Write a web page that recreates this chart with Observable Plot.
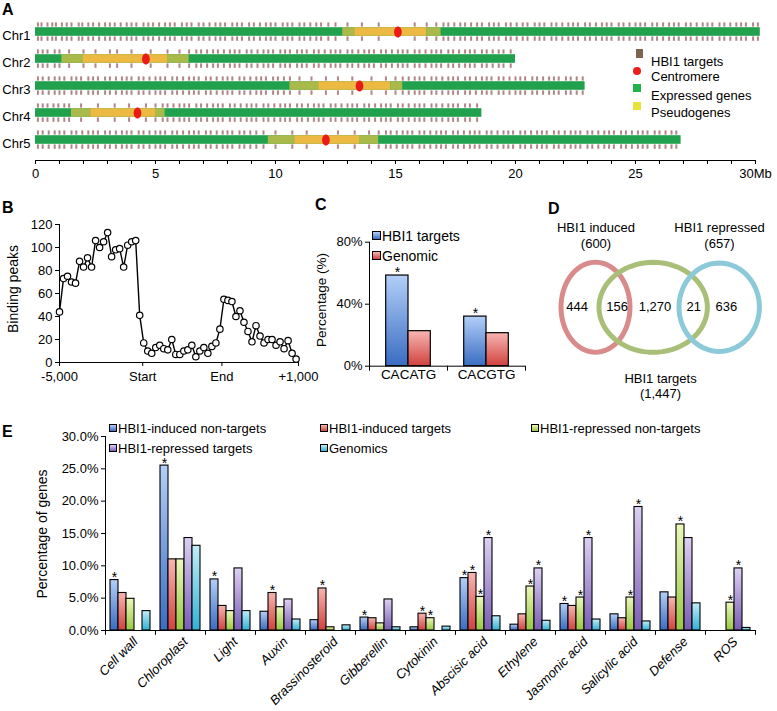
<!DOCTYPE html>
<html><head><meta charset="utf-8">
<script src="https://cdn.jsdelivr.net/npm/d3@7"></script>
<script src="https://cdn.jsdelivr.net/npm/@observablehq/plot@0.6"></script>
<style>
body{margin:0;background:#fff;}
#root{position:relative;width:777px;height:711px;overflow:hidden;font-family:Arial,"Liberation Sans",Helvetica,sans-serif;color:#000;background:#fff;}
</style></head><body>
<svg width="0" height="0" style="position:absolute">
<defs>
<linearGradient id="gBlue" x1="0" y1="0" x2="0" y2="1"><stop offset="0" stop-color="#b3cff8"/><stop offset="1" stop-color="#3a6cc2"/></linearGradient>
<linearGradient id="gRed" x1="0" y1="0" x2="0" y2="1"><stop offset="0" stop-color="#f8b6b2"/><stop offset="1" stop-color="#d0423e"/></linearGradient>
<linearGradient id="gGreen" x1="0" y1="0" x2="0" y2="1"><stop offset="0" stop-color="#ecf8bb"/><stop offset="1" stop-color="#98c843"/></linearGradient>
<linearGradient id="gPurple" x1="0" y1="0" x2="0" y2="1"><stop offset="0" stop-color="#ddd1f3"/><stop offset="1" stop-color="#7a5db4"/></linearGradient>
<linearGradient id="gCyan" x1="0" y1="0" x2="0" y2="1"><stop offset="0" stop-color="#c0edf8"/><stop offset="1" stop-color="#33b1d5"/></linearGradient>
</defs></svg>
<div id="root"></div>
<script>
// ---------------- DATA ----------------
// Panel A
const chrNames = ["Chr1","Chr2","Chr3","Chr4","Chr5"];
const chrLengths = [30.2, 20.0, 22.9, 18.6, 26.9];
const centromeres = [15.1, 4.6, 13.5, 4.25, 12.1];
const pseudoChr   = ["Chr1","Chr1","Chr1","Chr2","Chr2","Chr2","Chr3","Chr3","Chr3","Chr4","Chr4","Chr4","Chr5","Chr5","Chr5"];
const pseudoStart = [12.8,13.3,16.3, 1.1,2.0,5.5, 10.6,11.8,14.8, 1.5,2.3,5.0, 9.7,10.8,13.5];
const pseudoEnd   = [13.3,16.3,16.9, 2.0,5.5,6.4, 11.8,14.8,15.3, 2.3,5.0,5.4, 10.8,13.5,14.3];
const pseudoTone  = ["mixed","core","mixed","mixed","core","mixed","mixed","core","mixed","mixed","core","mixed","mixed","core","mixed"];
const targetsChr1 = [0.1,0.25,0.5,0.7,0.85,1.1,1.3,1.5,1.8,1.95,2.2,2.4,2.65,2.9,3.1,3.3,3.55,3.8,4.0,4.2,4.5,4.7,4.9,5.15,5.4,5.6,5.8,6.1,6.3,6.5,6.8,7.0,7.25,7.5,7.7,7.9,8.2,8.4,8.6,8.9,9.1,9.35,9.6,9.8,10.0,10.3,10.5,10.7,11.0,11.2,11.45,11.7,11.9,12.2,12.5,13.0,13.6,14.3,15.8,16.3,16.7,17.0,17.2,17.45,17.7,17.9,18.15,18.4,18.6,18.9,19.1,19.3,19.6,19.8,20.05,20.3,20.5,20.8,21.0,21.2,21.5,21.7,21.95,22.2,22.4,22.6,22.9,23.1,23.35,23.6,23.8,24.0,24.3,24.5,24.75,25.0,25.2,25.4,25.7,25.9,26.15,26.4,26.6,26.8,27.1,27.3,27.55,27.8,28.0,28.2,28.5,28.7,28.95,29.2,29.4,29.6,29.9,30.1];
const targetsChr2 = [0.1,0.3,0.5,0.8,1.0,1.4,2.0,2.5,3.1,3.4,4.0,4.8,5.5,6.0,6.4,6.7,6.9,7.15,7.4,7.6,7.85,8.1,8.3,8.5,8.8,9.0,9.25,9.5,9.7,9.9,10.2,10.4,10.6,10.9,11.1,11.3,11.6,11.8,12.05,12.3,12.5,12.7,13.0,13.2,13.45,13.7,13.9,14.1,14.4,14.6,14.85,15.1,15.3,15.5,15.8,16.0,16.25,16.5,16.7,16.9,17.2,17.4,17.65,17.9,18.1,18.3,18.6,18.8,19.05,19.3,19.5,19.8];
const targetsChr3 = [0.1,0.3,0.55,0.8,1.0,1.2,1.5,1.7,1.9,2.2,2.4,2.6,2.9,3.1,3.35,3.6,3.8,4.0,4.3,4.5,4.75,5.0,5.2,5.4,5.7,5.9,6.15,6.4,6.6,6.8,7.1,7.3,7.55,7.8,8.0,8.2,8.5,8.7,8.95,9.2,9.4,9.6,9.9,10.1,10.35,10.6,11.0,11.5,12.1,12.6,13.2,14.0,14.6,15.0,15.3,15.55,15.8,16.0,16.2,16.5,16.7,16.95,17.2,17.4,17.6,17.9,18.1,18.35,18.6,18.8,19.0,19.3,19.5,19.75,20.0,20.2,20.4,20.7,20.9,21.15,21.4,21.6,21.8,22.1,22.3,22.55,22.8];
const targetsChr4 = [0.1,0.3,0.5,0.75,0.95,1.2,1.4,1.9,2.6,3.3,3.9,4.6,5.0,5.3,5.5,5.75,6.0,6.2,6.4,6.7,6.9,7.15,7.4,7.6,7.8,8.1,8.3,8.55,8.8,9.0,9.2,9.5,9.7,9.95,10.2,10.4,10.6,10.9,11.1,11.35,11.6,11.8,12.0,12.3,12.5,12.75,13.0,13.2,13.4,13.7,13.9,14.15,14.4,14.6,14.8,15.1,15.3,15.55,15.8,16.0,16.2,16.5,16.7,16.95,17.2,17.4,17.6,17.9,18.1,18.4];
const targetsChr5 = [0.1,0.3,0.55,0.8,1.0,1.2,1.5,1.7,1.95,2.2,2.4,2.6,2.9,3.1,3.35,3.6,3.8,4.0,4.3,4.5,4.75,5.0,5.2,5.4,5.7,5.9,6.15,6.4,6.6,6.8,7.1,7.3,7.55,7.8,8.0,8.2,8.5,8.7,8.95,9.2,9.5,10.0,10.7,11.3,12.6,13.3,13.9,14.3,14.6,14.8,15.05,15.3,15.5,15.7,16.0,16.2,16.45,16.7,16.9,17.1,17.4,17.6,17.85,18.1,18.3,18.5,18.8,19.0,19.25,19.5,19.7,19.9,20.2,20.4,20.65,20.9,21.1,21.3,21.6,21.8,22.05,22.3,22.5,22.7,23.0,23.2,23.45,23.7,23.9,24.1,24.4,24.6,24.85,25.1,25.3,25.5,25.8,26.0,26.25,26.5,26.7];
const mbTicks = [0,1,2,3,4,5,6,7,8,9,10,11,12,13,14,15,16,17,18,19,20,21,22,23,24,25,26,27,28,29,30];
const mbLabeled = [0,5,10,15,20,25,30];
const legendA = ["HBI1 targets","Centromere","Expressed genes","Pseudogenes"];

// Panel B
const bPeaks = [44,73,75,70,69,88,83,91,83,106,100,105,113,92,98,99,83,102,105,106,
                41,17,10,8,13,15,12,11,20,7,7,10,11,15,5,10,13,8,14,17,
                29,55,54,53,40,45,35,27,18,32,23,17,20,20,15,18,12,19,8,3];
const bTickPos = [0, 20.75, 40.5, 59.6];
const bTickLabels = ["-5,000","Start","End","+1,000"];
const bYTicks = [0,20,40,60,80,100,120];

// Panel C
const cMotifs = ["CACATG","CACGTG"];
const cTargets = [58.5, 32.0];
const cGenomic = [22.6, 21.3];
const cStar = [true, true];
const cYTicks = [0,40,80];

// Panel D
const vennSets = ["HBI1 induced","HBI1 targets","HBI1 repressed"];
const vennSizes = [600, 1447, 657];
const vennCounts = [444, 156, 1270, 21, 636];

// Panel E
const eCats = ["Cell wall","Chloroplast","Light","Auxin","Brassinosteroid","Gibberellin","Cytokinin","Abscisic acid","Ethylene","Jasmonic acid","Salicylic acid","Defense","ROS"];
const eSeries = ["HBI1-induced non-targets","HBI1-induced targets","HBI1-repressed non-targets","HBI1-repressed targets","Genomics"];
const eInducedNon  = [7.8,25.5,7.9,2.9,1.6,2.0,0.5,8.1,0.9,4.1,2.5,5.9,0];
const eInducedT    = [5.8,11.0,3.8,5.8,6.5,1.9,2.6,8.9,2.5,3.8,1.9,5.1,0];
const eRepressedNon= [4.9,11.0,3.0,3.6,0.5,1.1,1.9,5.2,6.8,5.1,5.1,16.4,4.3];
const eRepressedT  = [0,14.3,9.6,4.8,0,4.8,0,14.3,9.6,14.3,19.1,14.3,9.6];
const eGenomics    = [3.0,13.1,3.0,1.7,0.8,0.5,0.6,2.2,1.5,1.7,1.4,4.2,0.4];
const eStarInducedNon   = [1,1,1,0,0,1,0,1,0,1,0,0,0];
const eStarInducedT     = [0,0,0,1,1,0,1,1,0,0,0,0,0];
const eStarRepressedNon = [0,0,0,0,0,0,1,1,1,1,1,1,1];
const eStarRepressedT   = [0,0,0,0,0,0,0,1,1,1,1,0,1];
const eStarGenomics     = [0,0,0,0,0,0,0,0,0,0,0,0,0];
const eYTicks = [0,5,10,15,20,25,30];

// ---------------- HELPERS ----------------
const root = document.getElementById("root");
const FONT = 'Arial, "Liberation Sans", Helvetica, sans-serif';
const baseStyle = {background:"transparent", fontFamily:FONT, fontSize:"13px", color:"#000", overflow:"visible"};
function place(node, left, top){ node.style.position="absolute"; node.style.left=left+"px"; node.style.top=top+"px"; root.appendChild(node); }
function label(text, x, y, o={}){
  const d=document.createElement("div"); d.textContent=text;
  const ax = o.anchor==="middle"?"-50%":o.anchor==="end"?"-100%":"0";
  d.style.cssText=`position:absolute;left:${x}px;top:${y}px;font-size:${o.size||13}px;line-height:1;white-space:nowrap;font-weight:${o.bold?"bold":"normal"};transform:translate(${ax},-50%)${o.rotate?` rotate(${o.rotate}deg)`:""};`;
  root.appendChild(d);
}
function swatch(x, y, w, h, bg, o={}){
  const d=document.createElement("div");
  d.style.cssText=`position:absolute;left:${x}px;top:${y}px;width:${w}px;height:${h}px;box-sizing:border-box;background:${bg};${o.border?"border:1px solid #000;":""}${o.round?"border-radius:50%;":""}`;
  root.appendChild(d);
}

// ---------------- PANEL A ----------------
const chrData = chrNames.map((c,i)=>({chr:c, start:0, end:chrLengths[i]}));
const pseudoData = pseudoChr.map((c,i)=>({chr:c, start:pseudoStart[i], end:pseudoEnd[i], tone:pseudoTone[i]}));
const targetLists = [targetsChr1,targetsChr2,targetsChr3,targetsChr4,targetsChr5];
const targetData = targetLists.flatMap((l,i)=>l.map(p=>({chr:chrNames[i], pos:p})));
const cenData = chrNames.map((c,i)=>({chr:c, pos:centromeres[i]}));
const ellipseSymbol = {draw(ctx,size){const r=Math.sqrt(size/Math.PI),a=r*0.8,b=r*1.15,k=0.5523;
  ctx.moveTo(a,0);ctx.bezierCurveTo(a,b*k,a*k,b,0,b);ctx.bezierCurveTo(-a*k,b,-a,b*k,-a,0);
  ctx.bezierCurveTo(-a,-b*k,-a*k,-b,0,-b);ctx.bezierCurveTo(a*k,-b,a,-b*k,a,0);ctx.closePath();}};
const bandInset = 9.2;
const pA = Plot.plot({
  width:777, height:190, marginLeft:35, marginRight:22, marginTop:0, marginBottom:30,
  style:{...baseStyle},
  x:{domain:[0,30], ticks:mbTicks, tickFormat:d=>mbLabeled.includes(d)?(d===30?"30Mb":String(d)):"", tickSize:4, tickPadding:4, line:true, label:null},
  y:{type:"band", domain:chrNames, range:[16,155.6], padding:0, axis:null},
  marks:[
    Plot.tickX(targetData,{x:"pos", y:"chr", stroke:"#b08484", strokeWidth:2, insetTop:4.4, insetBottom:18.4}),
    Plot.tickX(targetData,{x:"pos", y:"chr", stroke:"#b08484", strokeWidth:2, insetTop:18.4, insetBottom:4.2}),
    Plot.barX(chrData,{y:"chr", x1:"start", x2:"end", fill:"#21a04e", insetTop:bandInset, insetBottom:bandInset}),
    Plot.barX(pseudoData,{y:"chr", x1:"start", x2:"end", fill:d=>d.tone==="core"?"#ecb942":"#a9b94a", insetTop:bandInset, insetBottom:bandInset}),
    Plot.dot(cenData,{x:"pos", y:"chr", r:4.8, symbol:ellipseSymbol, fill:"#ea1a1a", stroke:"none"}),
    Plot.text(chrNames,{y:d=>d, frameAnchor:"left", textAnchor:"end", dx:-5, dy:4, fontSize:13})
  ]
});
place(pA,0,0);
// legend A
swatch(636,49,7,9,"#7b6450");
swatch(633,67,8,8,"#ee1c1c",{round:true});
swatch(633,84,8,8,"#22b24c");
swatch(633,102,8,8,"#e8e23a");
label(legendA[0],651,61); label(legendA[1],651,76); label(legendA[2],651,95); label(legendA[3],651,112);

// ---------------- PANEL B ----------------
const bData = bPeaks.map((v,i)=>({i, v}));
const pB = Plot.plot({
  width:310, height:200, marginLeft:59, marginRight:12, marginTop:34, marginBottom:28,
  style:{...baseStyle},
  x:{domain:[0,59.6], ticks:bTickPos, tickFormat:d=>bTickLabels[bTickPos.indexOf(d)], tickSize:4, tickPadding:5, line:true, label:null},
  y:{domain:[0,120], ticks:bYTicks, tickSize:4, tickPadding:3, line:true, label:null},
  marks:[
    Plot.line(bData,{x:"i", y:"v", stroke:"#000", strokeWidth:1.4}),
    Plot.dot(bData,{x:"i", y:"v", r:3.2, fill:"#fff", stroke:"#000", strokeWidth:1.2})
  ]
});
place(pB,0,190);
label("Binding peaks",13,289,{anchor:"middle",rotate:-90,size:14});

// ---------------- PANEL C ----------------
const cbw = 78, cbar = 22.3, cpad = (cbw-2*cbar)/2;
const cT = cMotifs.map((m,i)=>({m, v:cTargets[i], s:cStar[i]}));
const cG = cMotifs.map((m,i)=>({m, v:cGenomic[i]}));
const pC = Plot.plot({
  width:230, height:200, marginLeft:69, marginRight:5, marginTop:51.7, marginBottom:24.3,
  style:{...baseStyle},
  x:{type:"band", domain:cMotifs, padding:0, axis:null},
  y:{domain:[0,80], ticks:cYTicks, tickFormat:d=>d+"%", tickSize:4, tickPadding:3, line:true, label:null},
  marks:[
    Plot.barY(cT,{x:"m", y:"v", fill:"url(#gBlue)", stroke:"#000", strokeWidth:1.2, insetLeft:cpad, insetRight:cbw-cpad-cbar}),
    Plot.barY(cG,{x:"m", y:"v", fill:"url(#gRed)", stroke:"#000", strokeWidth:1.2, insetLeft:cpad+cbar, insetRight:cpad}),
    Plot.text(cT.filter(d=>d.s),{x:"m", y:"v", text:()=>"*", dx:-(cbw/2-cpad-cbar/2), dy:1, lineAnchor:"bottom", fontSize:14}),
    Plot.ruleY([0],{stroke:"#000"}),
    Plot.ruleX(cMotifs,{x:d=>d, dx:-cbw/2, y1:0, y2:-3.2, stroke:"#000"}),
    Plot.ruleX(cMotifs.slice(-1),{x:d=>d, dx:cbw/2, y1:0, y2:-3.2, stroke:"#000"}),
    Plot.text(cMotifs,{x:d=>d, frameAnchor:"bottom", dy:13, fontSize:13.5})
  ]
});
place(pC,300,190);
label("Percentage (%)",322,300,{anchor:"middle",rotate:-90,size:13.5});
swatch(372,231,9,9,"linear-gradient(#b3cff8,#3a6cc2)",{border:true});
label("HBI1 targets",382,236,{size:14});
swatch(372,251,9,9,"linear-gradient(#f8b6b2,#d0423e)",{border:true});
label("Genomic",382,256,{size:14});

// ---------------- PANEL D ----------------
const vennCx=[75,132.7,198.7], vennCy=[106.7,106.8,106.7], vennRx=[34.5,54.2,40.2], vennRy=[45,45,44.2];
const vennColors=["#d98b8b","#a9bf78","#8ccad9"];
const ellPts = vennSets.map((s,k)=>d3.range(0,73).map(j=>{const a=j/72*2*Math.PI; return {x:vennCx[k]+vennRx[k]*Math.cos(a), y:vennCy[k]+vennRy[k]*Math.sin(a)};}));
const fmt = d3.format(",");
const countX=[56.7,96.7,134.5,173.3,205.8];
const titleData=[
  {t:vennSets[0], x:75.5, y:27.7},{t:"("+fmt(vennSizes[0])+")", x:75.5, y:43},
  {t:vennSets[2], x:199, y:27.7},{t:"("+fmt(vennSizes[2])+")", x:199, y:43},
  {t:vennSets[1], x:140, y:178},{t:"("+fmt(vennSizes[1])+")", x:140, y:193}
];
const pD = Plot.plot({
  width:257, height:210, margin:0,
  style:{...baseStyle},
  x:{domain:[0,257], range:[0,257], axis:null},
  y:{domain:[0,210], range:[0,210], axis:null},
  marks:[
    ...ellPts.map((pts,k)=>Plot.line(pts,{x:"x", y:"y", curve:"linear-closed", stroke:vennColors[k], strokeWidth:5})),
    Plot.text(vennCounts,{x:(d,i)=>countX[i], y:()=>106.7, text:d=>fmt(d), fontSize:13}),
    Plot.text(titleData,{x:"x", y:"y", text:"t", fontSize:13})
  ]
});
place(pD,520,200);

// ---------------- PANEL E ----------------
const ebw = 50, ebar = 8, epad = (ebw-5*ebar)/2;
const eVals = [eInducedNon,eInducedT,eRepressedNon,eRepressedT,eGenomics];
const eStars = [eStarInducedNon,eStarInducedT,eStarRepressedNon,eStarRepressedT,eStarGenomics];
const eFills = ["url(#gBlue)","url(#gRed)","url(#gGreen)","url(#gPurple)","url(#gCyan)"];
const eMarks = [];
eVals.forEach((vals,k)=>{
  const data = eCats.map((c,i)=>({c, v:vals[i], s:eStars[k][i]})).filter(d=>d.v>0);
  eMarks.push(Plot.barY(data,{x:"c", y:"v", fill:eFills[k], stroke:"#000", strokeWidth:1.1, insetLeft:epad+k*ebar, insetRight:ebw-epad-(k+1)*ebar}));
  eMarks.push(Plot.text(data.filter(d=>d.s),{x:"c", y:"v", text:()=>"*", dx:-ebw/2+epad+(k+0.5)*ebar, dy:2, lineAnchor:"bottom", fontSize:14}));
});
const pE = Plot.plot({
  width:777, height:311, marginLeft:105, marginRight:22, marginTop:36, marginBottom:81,
  style:{...baseStyle},
  x:{type:"band", domain:eCats, padding:0, axis:null},
  y:{domain:[0,30], ticks:eYTicks, tickFormat:d=>d.toFixed(1)+"%", tickSize:4, tickPadding:3, line:true, label:null},
  marks:[
    ...eMarks,
    Plot.ruleY([0],{stroke:"#000"}),
    Plot.ruleX(eCats,{x:d=>d, dx:-ebw/2, y1:0, y2:-0.75, stroke:"#000"}),
    Plot.ruleX(eCats.slice(-1),{x:d=>d, dx:ebw/2, y1:0, y2:-0.75, stroke:"#000"}),
    Plot.text(eCats,{x:d=>d, frameAnchor:"bottom", rotate:-45, textAnchor:"end", dx:8, dy:12, fontSize:13, fontStyle:"italic"})
  ]
});
place(pE,0,400);
label("Percentage of genes",42,534,{anchor:"middle",rotate:-90,size:14});
const eLeg = [[109,428],[320,428],[531,428],[109,448],[320,448]];
const eGrad = ["linear-gradient(#b3cff8,#3a6cc2)","linear-gradient(#f8b6b2,#d0423e)","linear-gradient(#ecf8bb,#98c843)","linear-gradient(#ddd1f3,#7a5db4)","linear-gradient(#c0edf8,#33b1d5)"];
eSeries.forEach((s,k)=>{ const [x,y]=eLeg[k]; swatch(x,y-4,8,8,eGrad[k],{border:true}); label(s,x+9,y,{size:13}); });

// panel letters
label("A",2,10,{bold:true,size:16}); label("B",2,208,{bold:true,size:16});
label("C",315,205,{bold:true,size:16}); label("D",548,209,{bold:true,size:16});
label("E",2,432,{bold:true,size:16});
</script></body></html>
